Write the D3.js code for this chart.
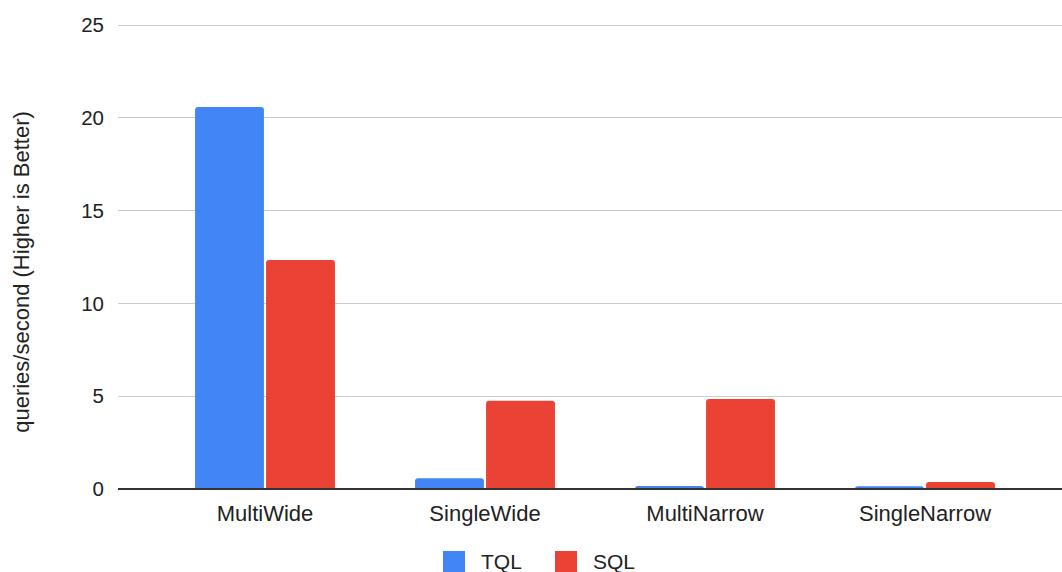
<!DOCTYPE html>
<meta charset="utf-8">
<style>
    body { margin: 0; background: #fff; }
    svg text { font-family: "Liberation Sans", Arial, sans-serif; fill: #222; }
    .ytick text { font-size: 20.5px; }
    .xlab text { font-size: 22px; }
    .grid line { stroke: #ccc; stroke-width: 1.5; shape-rendering: crispEdges; }
</style>
<svg class="chart" width="1062" height="572"></svg>
<script src="https://cdnjs.cloudflare.com/ajax/libs/d3/7.8.5/d3.min.js"></script>
<script>

    var categories = ["MultiWide", "SingleWide", "MultiNarrow", "SingleNarrow"];
    var seriesNames = ["TQL", "SQL"];
    var tqlValues = [20.56, 0.58, 0.16, 0.15];
    var sqlValues = [12.32, 4.75, 4.84, 0.38];
    var yTicks = [0, 5, 10, 15, 20, 25];
    var colors = ["#4285f4", "#ea4335"];

    var rows = categories.map((c, i) => ({name: c, values: [tqlValues[i], sqlValues[i]]}));

    var svg = d3.select(".chart");

    var y = d3.scaleLinear().domain([0, 25]).range([489, 24.5]);

    var x0 = d3.scaleBand()
        .domain(categories)
        .range([155, 1035])
        .paddingInner(0.364)
        .paddingOuter(0.182);

    var x1 = d3.scaleBand()
        .domain(seriesNames)
        .range([0, x0.bandwidth()])
        .paddingInner(0.03);

    // gridlines
    svg.append("g")
        .attr("class", "grid")
        .selectAll("line")
        .data(yTicks.filter(d => d > 0))
        .join("line")
        .attr("x1", 118).attr("x2", 1062)
        .attr("y1", d => Math.round(y(d)) + 0.5)
        .attr("y2", d => Math.round(y(d)) + 0.5);

    // y tick labels
    svg.append("g")
        .attr("class", "ytick")
        .selectAll("text")
        .data(yTicks)
        .join("text")
        .attr("x", 104)
        .attr("y", d => y(d))
        .attr("dy", "0.36em")
        .attr("text-anchor", "end")
        .text(d => d);

    function barPath(x, w, yTop, yBot) {
        var r = Math.min(3, (yBot - yTop), w / 2);
        return "M" + x + "," + yBot +
            "V" + (yTop + r) +
            "Q" + x + "," + yTop + " " + (x + r) + "," + yTop +
            "H" + (x + w - r) +
            "Q" + (x + w) + "," + yTop + " " + (x + w) + "," + (yTop + r) +
            "V" + yBot + "Z";
    }

    var group = svg.append("g")
        .selectAll("g")
        .data(rows)
        .join("g")
        .attr("transform", d => "translate(" + x0(d.name) + ",0)");

    group.selectAll("path")
        .data(d => d.values.map((v, i) => ({key: seriesNames[i], value: v, i: i})))
        .join("path")
        .attr("fill", d => colors[d.i])
        .attr("d", d => barPath(x1(d.key), x1.bandwidth(), y(d.value), y(0)));

    // baseline
    svg.append("line")
        .attr("x1", 118).attr("x2", 1062)
        .attr("y1", y(0)).attr("y2", y(0))
        .attr("stroke", "#333")
        .attr("stroke-width", 2);

    // x category labels
    svg.append("g")
        .attr("class", "xlab")
        .selectAll("text")
        .data(categories)
        .join("text")
        .attr("x", d => x0(d) + x0.bandwidth() / 2)
        .attr("y", 521)
        .attr("text-anchor", "middle")
        .text(d => d);

    // y axis title
    svg.append("text")
        .attr("transform", "translate(29,272) rotate(-90)")
        .attr("text-anchor", "middle")
        .style("font-size", "22px")
        .text("queries/second (Higher is Better)");

    // legend
    var legendX = [443, 555];
    var legend = svg.append("g")
        .selectAll("g")
        .data(seriesNames)
        .join("g")
        .attr("transform", (d, i) => "translate(" + legendX[i] + ",551)");

    legend.append("rect")
        .attr("width", 22).attr("height", 21)
        .attr("fill", (d, i) => colors[i]);

    legend.append("text")
        .attr("x", 38)
        .attr("y", 18)
        .style("font-size", "21px")
        .text(d => d);

</script>
